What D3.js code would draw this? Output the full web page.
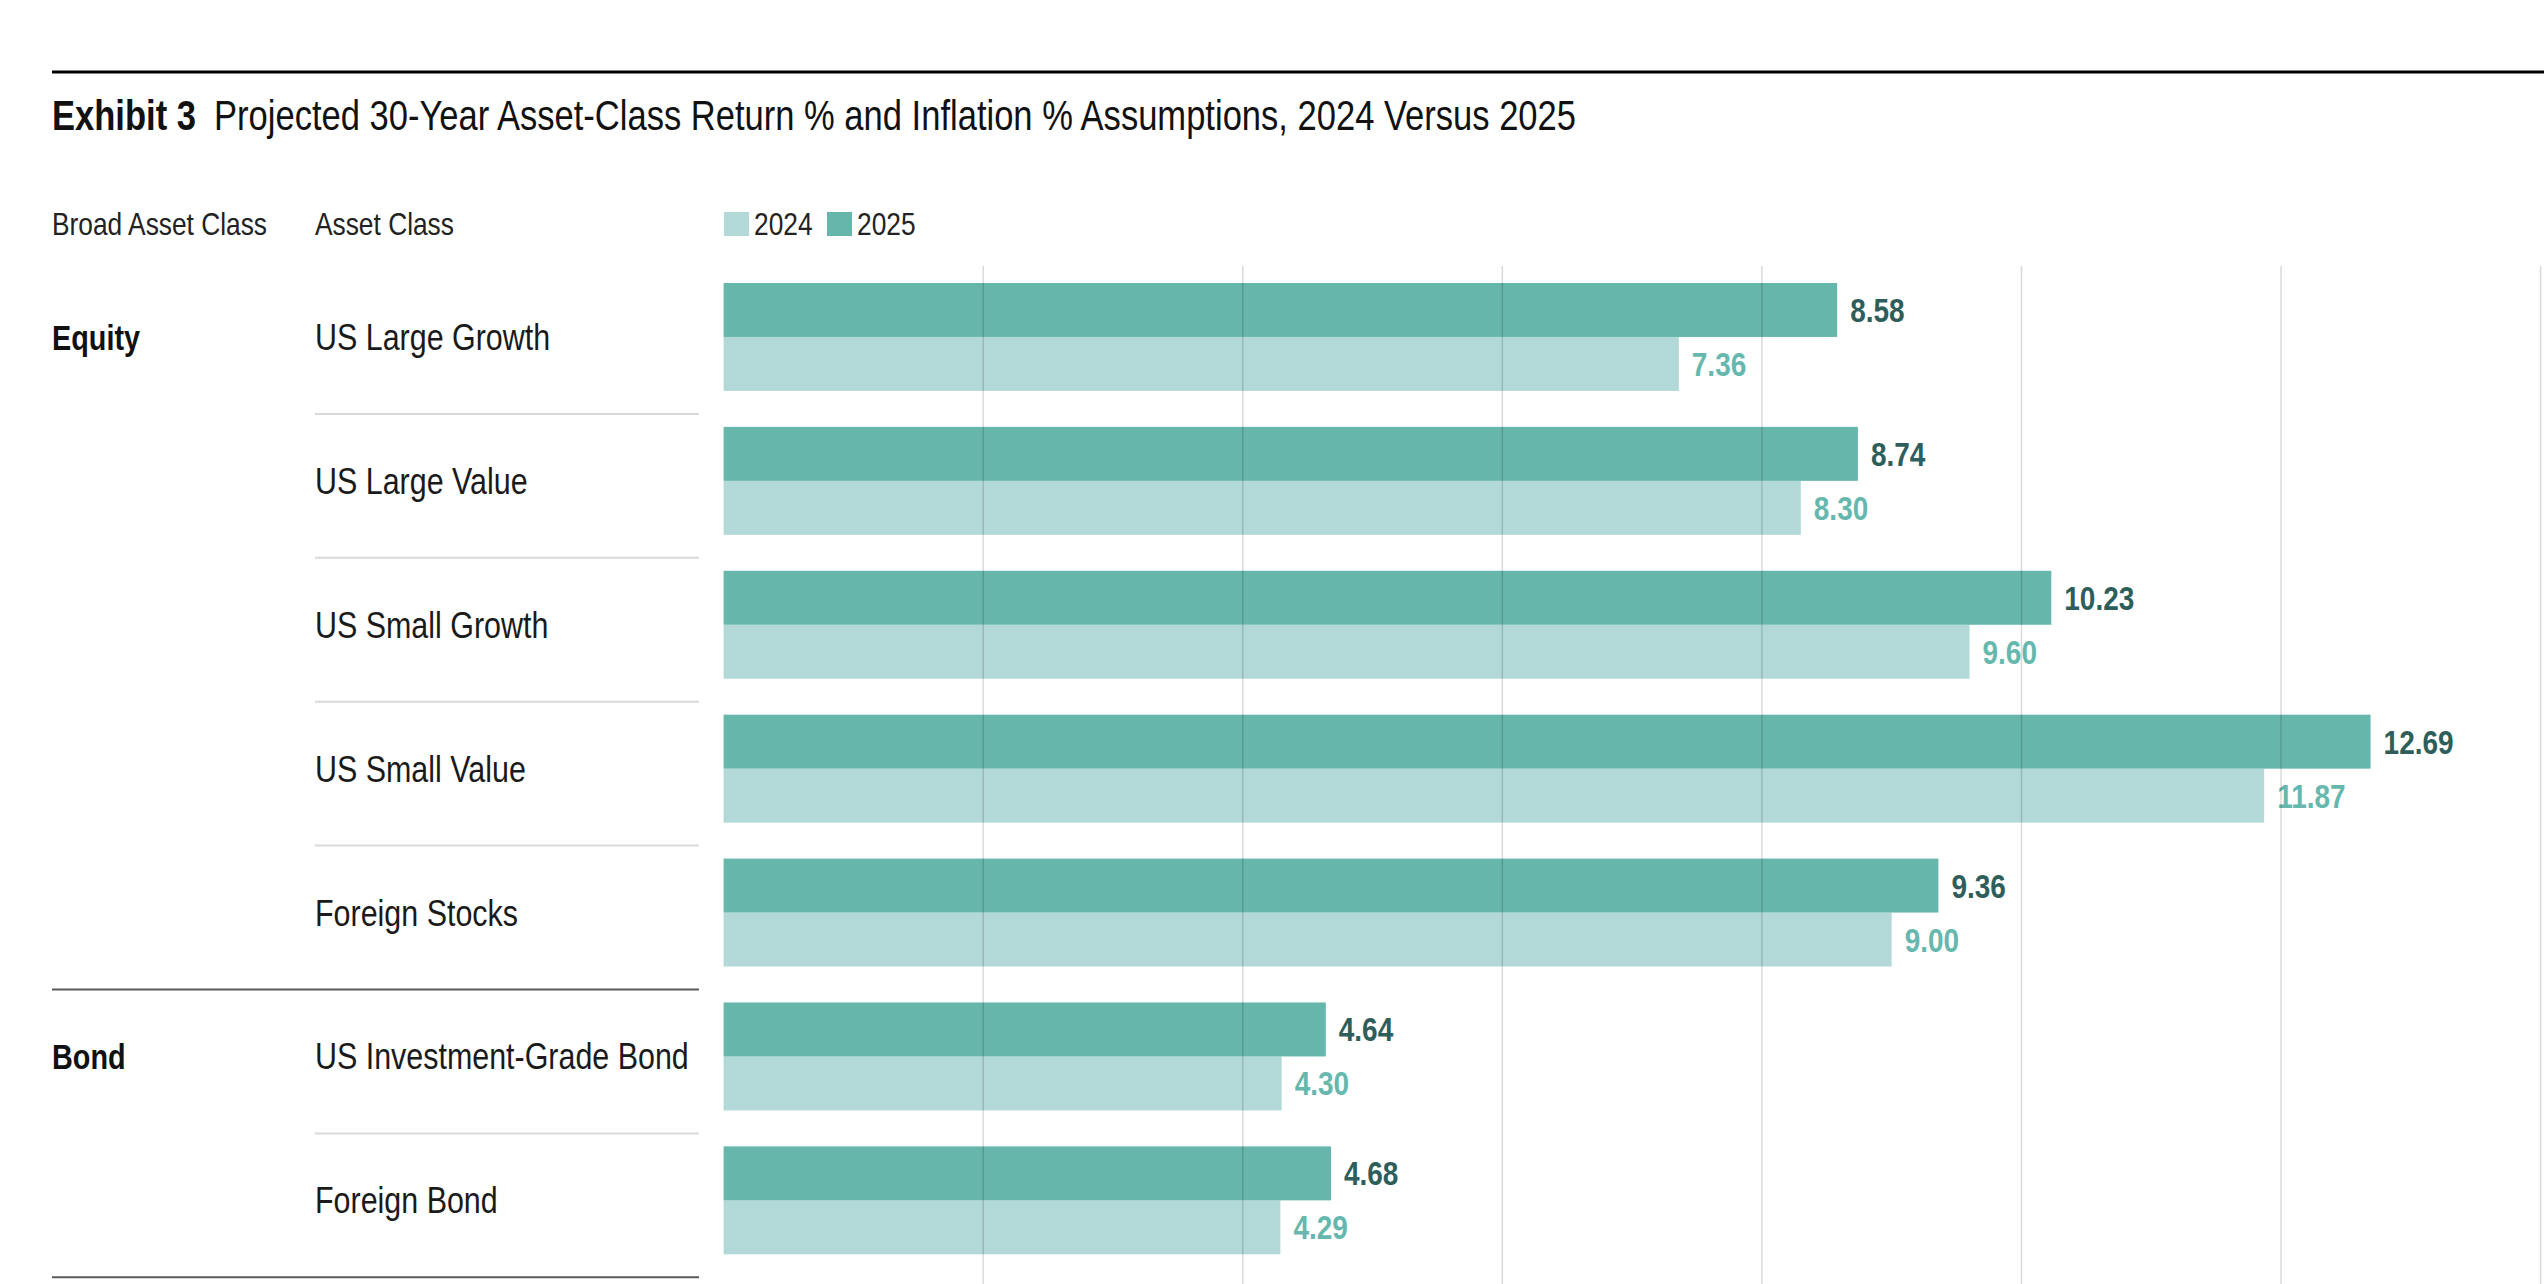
<!DOCTYPE html>
<html>
<head>
<meta charset="utf-8">
<script src="https://cdn.jsdelivr.net/npm/d3@7.9.0/dist/d3.min.js"></script>
<style>
  body { margin: 0; background: #fff; }
  svg text { font-family: "Liberation Sans Narrow", "Liberation Sans", Arial, sans-serif; }
</style>
</head>
<body>
<svg id="chart" width="2544" height="1284"></svg>
<script>
const assetClasses = ['US Large Growth', 'US Large Value', 'US Small Growth', 'US Small Value',
  'Foreign Stocks', 'US Investment-Grade Bond', 'Foreign Bond'];
const broadClasses = ['Equity', 'Equity', 'Equity', 'Equity', 'Equity', 'Bond', 'Bond'];
const returns2024 = [7.36, 8.30, 9.60, 11.87, 9.00, 4.30, 4.29];
const returns2025 = [8.58, 8.74, 10.23, 12.69, 9.36, 4.64, 4.68];
const years = ['2024', '2025'];
const xTicks = [2, 4, 6, 8, 10, 12, 14];

const colors = { '2024': '#b3d8d8', '2025': '#66b6ac' };
const labelColors = { '2024': '#66b8ae', '2025': '#2e5e5b' };

const svg = d3.select('#chart');

// the original face is a condensed grotesque, so squeeze the fallback to match
function calib(text, weight, size, target) {
  const t = svg.append('text').attr('font-weight', weight).attr('font-size', size).text(text);
  const w = t.node().getComputedTextLength();
  t.remove();
  return target / w;
}
const kBold = calib('Exhibit 3', 'bold', 42, 144);
const kReg = calib('Projected 30-Year Asset-Class Return % and Inflation % Assumptions, 2024 Versus 2025', 'normal', 42, 1362);

function squeeze(sel, k) {
  sel.each(function () {
    const w = this.getComputedTextLength();
    d3.select(this).attr('textLength', w * k).attr('lengthAdjust', 'spacingAndGlyphs');
  });
}

const x = d3.scaleLinear().domain([0, 14]).range([723.6, 2540.6]);
const y = d3.scaleBand().domain(assetClasses)
  .range([265, 265 + 7 * 143.9]).paddingInner(0.25).paddingOuter(0.125);
const yYear = d3.scaleBand().domain(['2025', '2024']).range([0, y.bandwidth()]);

const rows = assetClasses.map((name, i) => ({
  name, broad: broadClasses[i], '2024': returns2024[i], '2025': returns2025[i],
  groupStart: i === 0 || broadClasses[i - 1] !== broadClasses[i],
  groupEnd: i === assetClasses.length - 1 || broadClasses[i + 1] !== broadClasses[i]
}));

// top rule and title
svg.append('line').attr('x1', 52).attr('x2', 2544).attr('y1', 72).attr('y2', 72)
  .attr('stroke', '#000').attr('stroke-width', 3);

svg.append('text').attr('x', 52).attr('y', 130).attr('font-size', 42).attr('font-weight', 'bold')
  .attr('fill', '#111').text('Exhibit 3').call(squeeze, kBold);
svg.append('text').attr('x', 214).attr('y', 130).attr('font-size', 42).attr('fill', '#111')
  .text('Projected 30-Year Asset-Class Return % and Inflation % Assumptions, 2024 Versus 2025')
  .call(squeeze, kReg);

// column headers
svg.append('text').attr('x', 52).attr('y', 235).attr('font-size', 32).attr('fill', '#222')
  .text('Broad Asset Class').call(squeeze, kReg);
svg.append('text').attr('x', 315).attr('y', 235).attr('font-size', 32).attr('fill', '#222')
  .text('Asset Class').call(squeeze, kReg);

// legend
const legend = svg.append('g').selectAll('g').data(years).join('g')
  .attr('transform', (d, i) => `translate(${724 + i * 103},0)`);
legend.append('rect').attr('y', 212).attr('width', 25).attr('height', 24).attr('fill', d => colors[d]);
legend.append('text').attr('x', 30).attr('y', 235).attr('font-size', 32).attr('fill', '#222')
  .text(d => d).call(squeeze, kReg);

// bars
const row = svg.append('g').selectAll('g').data(rows).join('g')
  .attr('transform', d => `translate(0,${y(d.name)})`);

row.selectAll('rect').data(d => years.map(yr => ({ yr, v: d[yr] }))).join('rect')
  .attr('x', x(0)).attr('y', d => yYear(d.yr))
  .attr('width', d => x(d.v) - x(0)).attr('height', yYear.bandwidth())
  .attr('fill', d => colors[d.yr]);

row.selectAll('text.val').data(d => years.map(yr => ({ yr, v: d[yr] }))).join('text')
  .attr('class', 'val')
  .attr('x', d => x(d.v) + 13).attr('y', d => yYear(d.yr) + yYear.bandwidth() / 2 + 12)
  .attr('font-size', 34).attr('font-weight', 'bold').attr('fill', d => labelColors[d.yr])
  .text(d => d.v.toFixed(2)).call(squeeze, kBold);

// row labels
row.append('text').attr('x', 315).attr('y', y.bandwidth() / 2 + 13)
  .attr('font-size', 37).attr('fill', '#1a1a1a').text(d => d.name).call(squeeze, kReg);
row.filter(d => d.groupStart).append('text').attr('x', 52).attr('y', y.bandwidth() / 2 + 13)
  .attr('font-size', 35).attr('font-weight', 'bold').attr('fill', '#111')
  .text(d => d.broad).call(squeeze, kBold);

// separators
row.append('line')
  .attr('x1', d => d.groupEnd ? 52 : 315).attr('x2', 699)
  .attr('y1', y.bandwidth() + 23).attr('y2', y.bandwidth() + 23)
  .attr('stroke', d => d.groupEnd ? '#5a5a5a' : '#d9d9d9').attr('stroke-width', 2);

// gridlines on top of the bars
svg.append('g').selectAll('line').data(xTicks).join('line')
  .attr('x1', d => x(d)).attr('x2', d => x(d)).attr('y1', 266).attr('y2', 1284)
  .attr('stroke', '#000').attr('stroke-opacity', 0.15).attr('stroke-width', 1.5);
</script>
</body>
</html>
